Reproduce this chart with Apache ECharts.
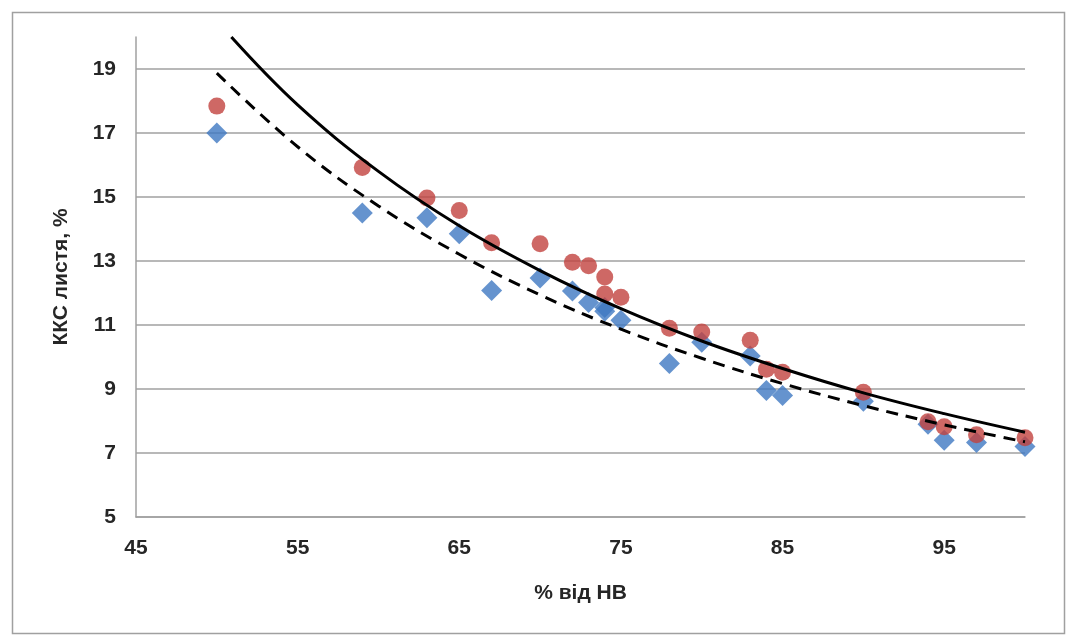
<!DOCTYPE html>
<html>
<head>
<meta charset="utf-8">
<script src="https://cdn.jsdelivr.net/npm/echarts@6/dist/echarts.min.js"></script>
<style>
html,body{margin:0;padding:0;background:#fff;}
#chart{width:1074px;height:635px;}
</style>
</head>
<body>
<div id="chart"></div>
<script>
// x values (% від НВ)
const xValues = [50, 59, 63, 65, 67, 70, 72, 73, 74, 74, 75, 78, 80, 83, 84, 85, 90, 94, 95, 97, 100];
// blue diamonds
const blueValues = [17.0, 14.5, 14.35, 13.85, 12.08, 12.47, 12.06, 11.7, 11.55, 11.43, 11.15, 9.8, 10.46, 10.03, 8.95, 8.8, 8.62, 7.9, 7.4, 7.33, 7.2];
// red circles
const redValues = [17.84, 15.92, 14.97, 14.58, 13.57, 13.54, 12.96, 12.85, 12.5, 11.97, 11.87, 10.9, 10.78, 10.52, 9.62, 9.52, 8.9, 7.98, 7.82, 7.57, 7.48];
// trend lines
const solidTrendX = [50.9, 55, 60, 65, 70, 75, 80, 85, 90, 95, 100];
const solidTrendY = [20.0, 17.88, 15.8, 14.1, 12.7, 11.51, 10.5, 9.64, 8.88, 8.23, 7.65];
const dashTrendX = [50, 55, 60, 65, 70, 75, 80, 85, 90, 95, 100];
const dashTrendY = [18.87, 16.57, 14.72, 13.21, 11.94, 10.87, 9.96, 9.17, 8.48, 7.88, 7.35];
const xTitle = '% від НВ';
const yTitle = 'ККС листя, %';

const zip = (a, b) => a.map((v, i) => [v, b[i]]);

const chart = echarts.init(document.getElementById('chart'), null, {renderer: 'canvas'});
const font = 'Liberation Sans, Arial, sans-serif';
chart.setOption({
  animation: false,
  backgroundColor: '#ffffff',
  graphic: [{
    type: 'rect',
    left: 10, top: 10,
    shape: {width: 1052, height: 621},
    style: {fill: 'none', stroke: '#a0a0a0', lineWidth: 1.5},
    silent: true
  }],
  grid: {left: 136, right: 49, top: 37, bottom: 118},
  xAxis: {
    type: 'value',
    min: 45, max: 100, interval: 10,
    name: xTitle,
    nameLocation: 'middle',
    nameGap: 66,
    nameTextStyle: {fontFamily: font, fontSize: 21, fontWeight: 'bold', color: '#262626'},
    axisLine: {show: true, lineStyle: {color: '#a0a0a0', width: 1.5}},
    axisTick: {show: false},
    splitLine: {show: false},
    axisLabel: {
      showMaxLabel: false,
      margin: 21,
      fontFamily: font, fontSize: 21, fontWeight: 'bold', color: '#262626'
    }
  },
  yAxis: {
    type: 'value',
    min: 5, max: 20, interval: 2,
    name: yTitle,
    nameLocation: 'middle',
    nameGap: 64,
    nameRotate: 90,
    nameTextStyle: {fontFamily: font, fontSize: 21, fontWeight: 'bold', color: '#262626'},
    axisLine: {show: true, lineStyle: {color: '#a0a0a0', width: 1.5}},
    axisTick: {show: false},
    splitLine: {show: true, showMaxLine: false, lineStyle: {color: '#a0a0a0', width: 1.5}},
    axisLabel: {
      showMaxLabel: false,
      margin: 20,
      fontFamily: font, fontSize: 21, fontWeight: 'bold', color: '#262626'
    }
  },
  series: [
    {
      type: 'scatter',
      data: zip(xValues, blueValues),
      symbol: 'diamond',
      symbolSize: 21,
      itemStyle: {color: '#3f78c2'},
      z: 2
    },
    {
      type: 'scatter',
      data: zip(xValues, redValues),
      symbol: 'circle',
      symbolSize: 17,
      itemStyle: {color: '#c2423e'},
      z: 3
    },
    {
      type: 'line',
      data: zip(solidTrendX, solidTrendY),
      smooth: 0.4,
      showSymbol: false,
      symbol: 'none',
      lineStyle: {color: '#000000', width: 3},
      z: 4
    },
    {
      type: 'line',
      data: zip(dashTrendX, dashTrendY),
      smooth: 0.4,
      showSymbol: false,
      symbol: 'none',
      lineStyle: {color: '#000000', width: 3, type: [12, 8]},
      z: 4
    }
  ]
});
</script>
</body>
</html>
